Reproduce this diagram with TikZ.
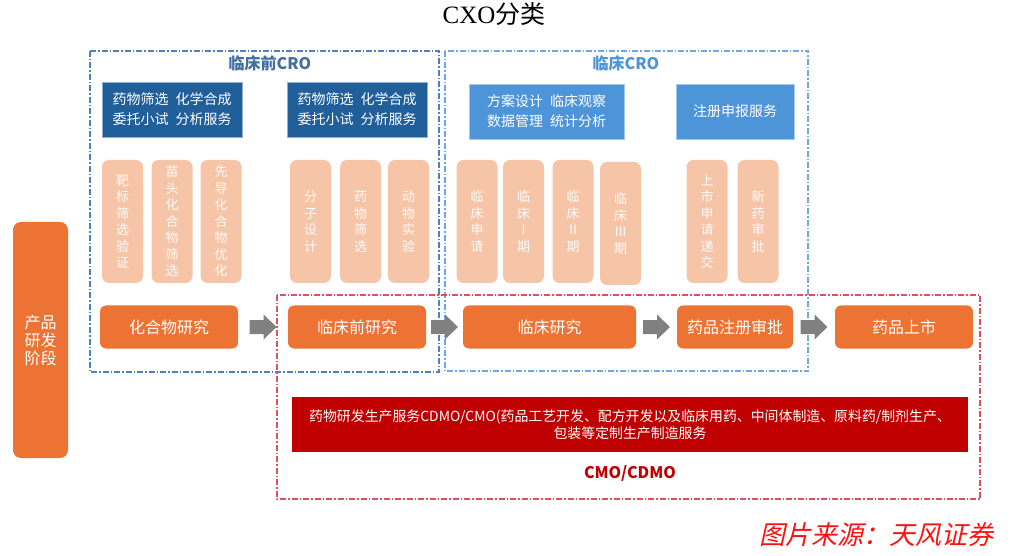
\documentclass[tikz,border=0pt]{standalone}
\usepackage{fontspec}
\setmainfont{Noto Sans CJK SC}
\newfontfamily\serifl{Liberation Serif}
\newfontfamily\srcfont[FakeSlant=0.22]{Noto Sans CJK SC}
\usetikzlibrary{calc}
\definecolor{orng}{HTML}{EC7334}
\definecolor{peach}{HTML}{F6C5A8}
\definecolor{dblue}{HTML}{215F9A}
\definecolor{lblue}{HTML}{4E94D8}
\definecolor{redbar}{HTML}{C00000}
\definecolor{arrgray}{HTML}{808080}
\definecolor{dashblueA}{HTML}{4F81BD}
\definecolor{dashblueB}{HTML}{6FA8DC}
\definecolor{dashred}{HTML}{E0505A}
\definecolor{srcred}{HTML}{FF1010}
\newcommand\blockarr[1]{\fill[arrgray] ($(#1)+(-13.5,-7)$) -- ($(#1)+(0.5,-7)$) -- ($(#1)+(0.5,-12.5)$) -- ($(#1)+(13.5,0)$) -- ($(#1)+(0.5,12.5)$) -- ($(#1)+(0.5,7)$) -- ($(#1)+(-13.5,7)$) -- cycle;}
\begin{document}
\begin{tikzpicture}[x=1pt,y=-1pt,
  dashbox/.style={line width=1.1pt, dash pattern=on 6pt off 2pt on 1.5pt off 2pt},
  svcbox/.style={inner sep=0pt, text=white, align=center, font=\fontsize{14}{20}\selectfont},
  pill/.style={fill=peach, rounded corners=7pt, minimum width=41pt, inner sep=0pt, text=white!92!peach, align=center, font=\fontsize{13}{16.5}\selectfont},
  stage/.style={fill=orng, rounded corners=6pt, minimum height=43pt, inner sep=0pt, text=white, font=\fontsize{16}{18}\selectfont},
  grouplabel/.style={font=\fontsize{16}{18}\selectfont\bfseries}
]
\useasboundingbox (0,0) rectangle (1010,556);

% title
\node (title) at (494,14) {\fontsize{25}{27}\selectfont{\serifl CXO}分类};

% dashed group frames
\draw[dashbox, dashblueA] (90,51) rectangle (439,372);
\draw[dashbox, dashblueB] (445,51) rectangle (808,371);
\draw[dashbox, dashred] (277,295) rectangle (980,499);

\node[grouplabel, text=dashblueA!85!black] (pre) at (270,63) {临床前CRO};
\node[grouplabel, text=lblue] (cli) at (626,63) {临床CRO};

% service boxes
\node[svcbox, fill=dblue, draw=dblue!50!white, minimum width=140pt, minimum height=55pt] (s1) at (172,109.5) {药物筛选\hspace{0.5em}化学合成\\委托小试\hspace{0.5em}分析服务};
\node[svcbox, fill=dblue, draw=dblue!50!white, minimum width=140pt, minimum height=55pt] (s2) at (357,109.5) {药物筛选\hspace{0.5em}化学合成\\委托小试\hspace{0.5em}分析服务};
\node[svcbox, fill=lblue, draw=lblue!50!white, minimum width=155pt, minimum height=55pt] (s3) at (546.5,111.5) {方案设计\hspace{0.5em}临床观察\\数据管理\hspace{0.5em}统计分析};
\node[svcbox, fill=lblue, draw=lblue!50!white, minimum width=118pt, minimum height=55pt] (s4) at (735,111.5) {注册申报服务};

% peach pills
\node[pill, minimum height=123pt] (p1) at (122.5,221.5) {靶\\标\\筛\\选\\验\\证};
\node[pill, minimum height=123pt] (p2) at (172,221.5) {苗\\头\\化\\合\\物\\筛\\选};
\node[pill, minimum height=123pt] (p3) at (221,221.5) {先\\导\\化\\合\\物\\优\\化};
\node[pill, minimum height=123pt] (p4) at (310.5,221.5) {分\\子\\设\\计};
\node[pill, minimum height=123pt] (p5) at (360.5,221.5) {药\\物\\筛\\选};
\node[pill, minimum height=123pt] (p6) at (408.5,221.5) {动\\物\\实\\验};
\node[pill, minimum height=123pt] (p7) at (477,221.5) {临\\床\\申\\请};
\node[pill, minimum height=123pt] (p8) at (523.5,221.5) {临\\床\\Ⅰ\\期};
\node[pill, minimum height=123pt] (p9) at (573,221.5) {临\\床\\Ⅱ\\期};
\node[pill, minimum height=123pt] (p10) at (620.5,223.5) {临\\床\\Ⅲ\\期};
\node[pill, minimum height=123pt] (p11) at (707,221.5) {上\\市\\申\\请\\递\\交};
\node[pill, minimum height=123pt] (p12) at (758,221.5) {新\\药\\审\\批};

% left stage label
\node[fill=orng, rounded corners=8pt, minimum width=55pt, minimum height=236pt, inner sep=0pt, text=white, align=center, font=\fontsize{16}{18}\selectfont] (phase) at (40.5,340) {产品\\研发\\阶段};

% stages
\node[stage, minimum width=138pt] (b1) at (169,327) {化合物研究};
\node[stage, minimum width=138pt] (b2) at (357,327) {临床前研究};
\node[stage, minimum width=173pt] (b3) at (549.5,327) {临床研究};
\node[stage, minimum width=116pt] (b4) at (735,327) {药品注册审批};
\node[stage, minimum width=138pt] (b5) at (904,327) {药品上市};

\coordinate (m1) at ($(b1.east)!0.5!(b2.west)$);
\coordinate (m2) at ($(b2.east)!0.5!(b3.west)$);
\coordinate (m3) at ($(b3.east)!0.5!(b4.west)$);
\coordinate (m4) at ($(b4.east)!0.5!(b5.west)$);
\blockarr{m1}
\blockarr{m2}
\blockarr{m3}
\blockarr{m4}

% CDMO bar
\node[fill=redbar, minimum width=676pt, minimum height=55pt, inner sep=0pt, text=white, align=center, font=\fontsize{13.9}{17.5}\selectfont] (cdmo) at (630,424.5) {药物研发生产服务CDMO/CMO(药品工艺开发、配方开发以及临床用药、中间体制造、原料药/制剂生产、\\包装等定制生产制造服务};
\node[font=\fontsize{16}{18}\selectfont\bfseries, text=redbar] (cmo) at (630,473) {CMO/CDMO};

% source
\node[font=\fontsize{26}{28}\selectfont\srcfont, text=srcred, anchor=east] (src) at (997,535) {图片来源：天风证券};
\end{tikzpicture}
\end{document}
